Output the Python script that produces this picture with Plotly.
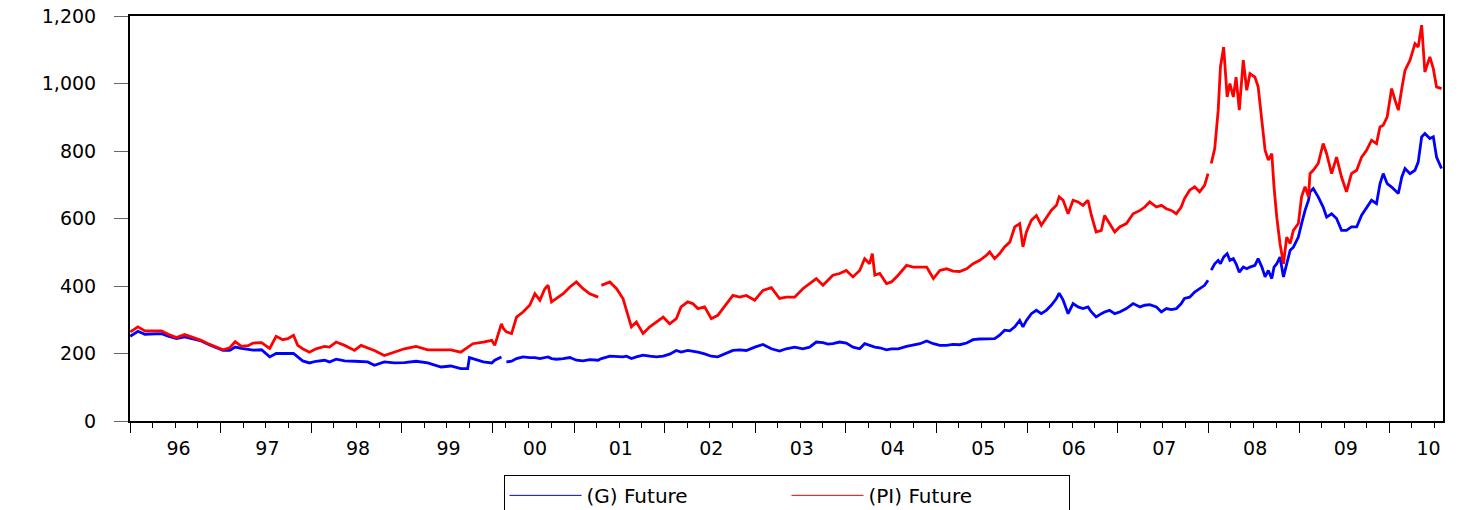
import plotly.graph_objects as go

# Observation dates (sampled) and futures prices for the two series
dates = [
    "1996-01-02", "1996-02-02", "1996-03-01", "1996-04-10", "1996-05-07", "1996-06-03",
    "1996-07-06", "1996-08-08", "1996-09-11", "1996-10-14", "1996-11-17", "1996-12-14",
    "1997-01-10", "1997-02-06", "1997-02-28", "1997-03-25", "1997-04-21", "1997-05-11",
    "1997-06-14", "1997-07-17", "1997-08-12", "1997-09-08", "1997-09-28", "1997-10-21",
    "1997-11-07", "1997-11-27", "1997-12-24", "1998-01-20", "1998-02-23", "1998-03-15",
    "1998-04-11", "1998-05-15", "1998-06-24", "1998-07-20", "1998-08-16", "1998-09-12",
    "1998-10-22", "1998-12-01", "1999-01-11", "1999-02-27", "1999-04-15", "1999-06-08",
    "1999-07-17", "1999-08-26", "1999-09-23", "1999-09-30", "1999-10-14", "1999-11-25",
    "1999-12-29", "2000-02-16", "2000-03-14", "2000-03-22", "2000-04-03", "2000-04-24",
    "2000-05-14", "2000-06-09", "2000-07-06", "2000-07-27", "2000-08-16", "2000-09-05",
    "2000-09-18", "2000-10-02", "2000-10-22", "2000-11-18", "2000-12-15", "2001-01-10",
    "2001-02-06", "2001-03-05", "2001-04-08", "2001-04-15", "2001-04-21", "2001-05-25",
    "2001-06-21", "2001-07-17", "2001-07-31", "2001-08-20", "2001-09-09", "2001-10-06",
    "2001-11-02", "2001-11-29", "2001-12-26", "2002-01-21", "2002-02-17", "2002-03-08",
    "2002-04-04", "2002-04-24", "2002-05-15", "2002-06-11", "2002-07-08", "2002-08-03",
    "2002-08-30", "2002-10-03", "2002-10-30", "2002-11-26", "2002-12-30", "2003-02-01",
    "2003-03-07", "2003-04-09", "2003-05-06", "2003-06-09", "2003-07-12", "2003-08-08",
    "2003-09-04", "2003-10-01", "2003-10-21", "2003-11-10", "2003-12-07", "2004-01-03",
    "2004-01-30", "2004-02-26", "2004-03-17", "2004-04-06", "2004-04-17", "2004-04-27",
    "2004-05-17", "2004-06-13", "2004-07-03", "2004-07-30", "2004-09-02", "2004-09-28",
    "2004-10-26", "2004-11-22", "2004-12-19", "2005-01-14", "2005-02-10", "2005-03-08",
    "2005-04-04", "2005-05-02", "2005-05-28", "2005-06-24", "2005-07-21", "2005-08-03",
    "2005-08-23", "2005-09-12", "2005-10-02", "2005-10-23", "2005-11-12", "2005-12-02",
    "2005-12-15", "2005-12-29", "2006-01-18", "2006-02-07", "2006-02-27", "2006-03-19",
    "2006-04-08", "2006-04-29", "2006-05-10", "2006-05-26", "2006-06-15", "2006-07-05",
    "2006-07-25", "2006-08-14", "2006-09-03", "2006-09-17", "2006-10-06", "2006-10-27",
    "2006-11-09", "2006-11-29", "2006-12-20", "2007-01-09", "2007-02-05", "2007-03-04",
    "2007-04-01", "2007-04-20", "2007-05-10", "2007-06-06", "2007-06-26", "2007-07-16",
    "2007-08-05", "2007-08-25", "2007-09-14", "2007-09-27", "2007-10-18", "2007-11-07",
    "2007-11-27", "2007-12-17", "2007-12-31", "2008-01-05", "2008-01-13", "2008-01-27",
    "2008-02-10", "2008-02-19", "2008-03-03", "2008-03-17", "2008-03-28", "2008-04-11",
    "2008-04-22", "2008-05-05", "2008-05-21", "2008-06-04", "2008-06-17", "2008-07-07",
    "2008-07-20", "2008-08-04", "2008-08-17", "2008-08-30", "2008-09-13", "2008-09-22",
    "2008-10-03", "2008-10-16", "2008-10-30", "2008-11-12", "2008-11-26", "2008-12-09",
    "2008-12-29", "2009-01-11", "2009-01-25", "2009-02-08", "2009-02-14", "2009-02-27",
    "2009-03-19", "2009-04-08", "2009-04-22", "2009-05-12", "2009-06-01", "2009-06-21",
    "2009-07-11", "2009-07-31", "2009-08-21", "2009-09-10", "2009-09-30", "2009-10-20",
    "2009-11-09", "2009-11-23", "2009-12-06", "2009-12-22", "2010-01-09", "2010-01-23",
    "2010-02-05", "2010-02-19", "2010-03-04", "2010-03-24", "2010-04-13", "2010-04-26",
    "2010-05-10", "2010-05-23", "2010-06-12", "2010-06-26", "2010-07-09", "2010-07-29",
]

gold = [
    251, 266, 257, 257, 259, 251, 244, 249, 244, 237, 225, 216,
    209, 209, 219, 215, 213, 210, 211, 190, 200, 200, 198, 200,
    190, 178, 172, 177, 180, 175, 183, 178, 177, 175, 175, 165,
    175, 172, 173, 177, 172, 160, 163, 155, 155, 188, 185, 175,
    172, 180, 190, None, 175, 177, 185, 190, 188, 188, 185, 188,
    190, 185, 183, 185, 188, 180, 178, 182, 180, 183, 185, 192,
    190, 190, 192, 185, 190, 195, 192, 190, 192, 198, 209, 204,
    209, 207, 204, 199, 192, 190, 199, 209, 211, 209, 219, 227,
    214, 207, 214, 219, 214, 219, 234, 232, 228, 229, 234, 231,
    219, 214, 229, 224, 221, 219, 217, 211, 214, 214, 221, 224,
    229, 237, 229, 224, 224, 227, 226, 231, 241, 243, 243, 243,
    244, 254, 269, 267, 279, 298, 279, 298, 318, 328, 318, 328,
    343, 363, 379, 358, 318, 348, 338, 333, 338, 323, 308, 318,
    323, 328, 318, 323, 333, 348, 338, 343, 345, 338, 323, 333,
    330, 333, 348, 363, 367, 382, 392, 402, 417, None, 447, 466,
    476, 466, 486, 496, 476, 481, 466, 441, 456, 451, 456, 461,
    481, 456, 427, 446, 422, 456, 466, 486, 427, 466, 506, 515,
    545, 585, 624, 654, 679, 689, 664, 634, 604, 614, 600, 565,
    565, 575, 575, 610, 634, 654, 644, 703, 733, 703, 693, 684,
    674, 723, 748, 733, 743, 767, 842, 852, 837, 842, 782, 748,
]

platinum = [
    264, 279, 267, 267, 267, 257, 247, 256, 247, 239, 227, 219,
    211, 217, 235, 221, 223, 231, 232, 215, 251, 241, 244, 254,
    224, 214, 204, 214, 221, 219, 234, 224, 209, 224, 217, 209,
    194, 204, 214, 221, 211, 211, 211, 204, 219, 224, 229, 234,
    239, 224, 288, 274, 264, 259, 308, 323, 343, 377, 358, 392,
    402, 353, 363, 377, 397, 412, 392, 377, 367, None, 402, 412,
    392, 363, 328, 279, 293, 259, 279, 293, 308, 288, 303, 338,
    353, 348, 333, 338, 303, 313, 338, 372, 367, 372, 358, 387,
    395, 363, 367, 367, 392, 407, 422, 402, 417, 432, 437, 446,
    427, 446, 481, 466, 496, 432, 437, 407, 412, 432, 461, 456,
    456, 456, 422, 446, 451, 444, 443, 451, 466, 476, 491, 501,
    481, 496, 516, 530, 575, 585, 516, 560, 595, 609, 580, 604,
    624, 639, 664, 654, 614, 654, 649, 639, 654, 609, 560, 565,
    609, 585, 560, 575, 585, 614, 624, 634, 649, 634, 639, 629,
    624, 614, 634, 659, 684, 694, 679, 698, 733, None, 763, 807,
    921, 1049, 1108, 960, 1000, 960, 1019, 921, 1069, 980, 1029, 1019,
    990, 881, 802, 773, 792, 693, 604, 526, 466, 545, 526, 565,
    585, 664, 694, 664, 733, 743, 763, 822, 792, 733, 782, 723,
    679, 733, 743, 782, 802, 832, 822, 871, 876, 901, 985, 950,
    921, 985, 1039, 1069, 1118, 1108, 1173, 1034, 1079, 1044, 990, 985,
]

# Axis ticks and labels
year_starts = [f"{y}-01-01" for y in range(1996, 2011)]
quarter_starts = [f"{y}-{m:02d}-01" for y in range(1996, 2011) for m in (4, 7, 10)]
year_labels = ["96", "97", "98", "99", "00", "01", "02", "03", "04", "05",
               "06", "07", "08", "09", "10"]
year_label_dates = [
    "1996-07-15", "1997-07-08", "1998-07-08", "1999-07-08", "2000-07-27",
    "2001-07-08", "2002-07-08", "2003-07-08", "2004-07-08", "2005-07-08",
    "2006-07-08", "2007-07-08", "2008-07-08", "2009-07-08", "2010-06-07",
]
y_ticks = [0, 200, 400, 600, 800, 1000, 1200]

x_range = ["1996-01-01", "2010-08-04"]
# no observations were recorded early in January 2000
x_breaks = [dict(bounds=["2000-01-04", "2000-02-10"])]

BLUE = "#0000FF"
RED = "#FF0000"
FONT = "DejaVu Sans"

fig = go.Figure()

fig.add_trace(go.Scatter(
    x=dates, y=gold, mode="lines", connectgaps=False,
    line=dict(color=BLUE, width=2.8), showlegend=False, hoverinfo="skip",
))
fig.add_trace(go.Scatter(
    x=dates, y=platinum, mode="lines", connectgaps=False,
    line=dict(color=RED, width=2.8), showlegend=False, hoverinfo="skip",
))

# thin legend keys
fig.add_trace(go.Scatter(
    x=[None], y=[None], mode="lines", name="(G) Future",
    line=dict(color=BLUE, width=1), xaxis="x2",
))
fig.add_trace(go.Scatter(
    x=[None], y=[None], mode="lines", name="(PI) Future",
    line=dict(color=RED, width=1), xaxis="x2",
))

fig.update_layout(
    width=1458, height=510,
    margin=dict(l=130, r=15, t=16, b=89, autoexpand=False),
    paper_bgcolor="white", plot_bgcolor="white",
    font=dict(family=FONT, size=19, color="black"),
    xaxis=dict(
        type="date", range=x_range, rangebreaks=x_breaks,
        showgrid=False, zeroline=False,
        showline=True, linecolor="black", linewidth=2, mirror=True,
        tickmode="array", tickvals=year_starts, ticktext=[""] * len(year_starts),
        ticks="outside", ticklen=10, tickwidth=1, tickcolor="black",
        minor=dict(tickmode="array", tickvals=quarter_starts, ticks="outside",
                   ticklen=5, tickwidth=1, tickcolor="black", showgrid=False),
    ),
    xaxis2=dict(
        type="date", range=x_range, rangebreaks=x_breaks,
        overlaying="x", anchor="y", side="bottom",
        showgrid=False, zeroline=False, showline=False,
        tickmode="array", tickvals=year_label_dates, ticktext=year_labels,
        ticks="", ticklabelstandoff=14,
        tickfont=dict(family=FONT, size=19, color="black"),
    ),
    yaxis=dict(
        range=[0, 1200], tickmode="array", tickvals=y_ticks, tickformat=",d",
        showgrid=False, zeroline=False,
        showline=True, linecolor="black", linewidth=2, mirror=True,
        ticks="outside", ticklen=14, tickwidth=1, tickcolor="#666666",
        ticklabelstandoff=14,
        tickfont=dict(family=FONT, size=19, color="black"),
    ),
    legend=dict(
        orientation="h", x=0.5, xanchor="center", y=-0.133, yanchor="top",
        bordercolor="black", borderwidth=1, bgcolor="white",
        font=dict(family=FONT, size=20, color="black"),
        itemwidth=72, entrywidth=195, traceorder="normal",
    ),
)

fig.write_html("out.html")
